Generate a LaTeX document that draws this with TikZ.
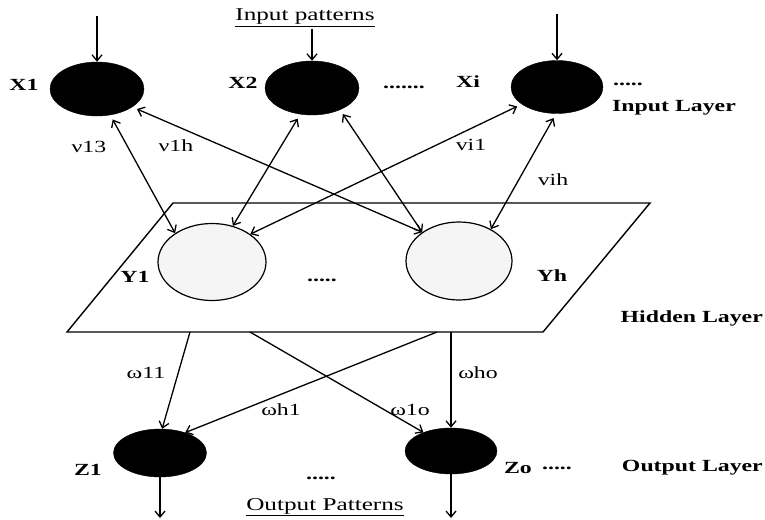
\documentclass[tikz,border=0pt]{standalone}
\usepackage{fontspec}
\setmainfont{Liberation Serif}[FakeStretch=1.4]
\usetikzlibrary{shapes.geometric,arrows.meta}
\begin{document}
\begin{tikzpicture}[x=1pt,y=-1pt,
  lbl/.style={font=\fontsize{17}{19}\selectfont\bfseries, inner sep=0pt},
  wlbl/.style={font=\fontsize{17}{19}\selectfont, inner sep=0pt},
  ulbl/.style={font=\fontsize{18}{20}\selectfont, inner sep=0pt},
  dark/.style={ellipse, fill=black, draw=black, inner sep=0pt},
  light/.style={ellipse, fill=gray!8, draw=black, line width=1.2pt, inner sep=0pt},
  tip/.tip={Straight Barb[length=6pt,width=10pt]},
  link/.style={line width=1.3pt, -tip},
  dlink/.style={line width=1.3pt, tip-tip, shorten <=5pt},
]
\useasboundingbox (0,0) rectangle (765,519);

% hidden layer plane
\coordinate (P1) at (173,203);
\coordinate (P2) at (650,203);
\coordinate (P3) at (543,332);
\coordinate (P4) at (67,332);
\draw[line width=1.4pt] (P1) -- (P2) -- (P3) -- (P4) -- cycle;

% neurons
\node[dark, minimum width=94pt, minimum height=54pt] (X1) at (97,89) {};
\node[dark, minimum width=94pt, minimum height=54pt] (X2) at (312,88) {};
\node[dark, minimum width=92pt, minimum height=53pt] (Xi) at (557,87) {};
\node[light, minimum width=108pt, minimum height=77pt] (Y1) at (212,262) {};
\node[light, minimum width=106pt, minimum height=78pt] (Yh) at (459,261) {};
\node[dark, minimum width=93pt, minimum height=48pt] (Z1) at (160,453) {};
\node[dark, minimum width=92pt, minimum height=46pt] (Zo) at (451,451) {};

% input arrows
\coordinate (in1) at (97,16);
\coordinate (in2) at (312,29);
\coordinate (in3) at (557,14);
\draw[link] (in1) -- (X1.north);
\draw[link] (in2) -- (X2.north);
\draw[link] (in3) -- (Xi.north);

% input <-> hidden
\draw[dlink] (X1.-63) -- (Y1.142);
\draw[dlink] (X1.-27) -- (Yh.142);
\draw[dlink] (X2.-114) -- (Y1.60);
\draw[dlink] (X2.-38) -- (Yh.142);
\draw[dlink] (Xi.-154) -- (Y1.36);
\draw[dlink] (Xi.-92) -- (Yh.45);

% hidden -> output
\coordinate (h1) at (190,332);
\coordinate (h2) at (250,332);
\coordinate (h3) at (437,332);
\coordinate (h4) at (451,332);
\draw[link] (h1) -- (Z1.85);
\draw[link] (h3) -- (Z1.39);
\draw[link] (h2) -- (Zo.146);
\draw[link] (h4) -- (Zo.north);

% output arrows
\coordinate (out1) at (160,518);
\coordinate (out2) at (451,518);
\draw[link] (Z1.south) -- (out1);
\draw[link] (Zo.south) -- (out2);

% labels
\node[ulbl] (tin) at (305,18) {\underline{Input patterns}};
\node[lbl] (lX1) at (24,85) {X1};
\node[lbl] (lX2) at (243,83) {X2};
\node[lbl] (d1) at (404,87) {.......};
\node[lbl] (lXi) at (468,82) {Xi};
\node[lbl] (d2) at (628,84) {.....};
\node[lbl, anchor=west] (tIL) at (612,108) {Input Layer};

\node[wlbl] (w1) at (89,147) {ν13};
\node[wlbl] (w2) at (176,146) {ν1h};
\node[wlbl] (w3) at (471,145) {vi1};
\node[wlbl] (w4) at (553,180) {vih};

\node[lbl] (lY1) at (135,277) {Y1};
\node[lbl] (d3) at (322,280) {.....};
\node[lbl] (lYh) at (552,276) {Yh};
\node[lbl, anchor=east] (tHL) at (763,318) {Hidden Layer};

\node[wlbl] (o1) at (146,373) {ω11};
\node[wlbl] (o2) at (281,410) {ωh1};
\node[wlbl] (o3) at (410,410) {ω1o};
\node[wlbl] (o4) at (478,373) {ωho};

\node[lbl] (lZ1) at (88,470) {Z1};
\node[lbl] (d4) at (321,478) {.....};
\node[lbl] (lZo) at (518,468) {Zo};
\node[lbl] (d5) at (557,468) {.....};
\node[lbl, anchor=east] (tOL) at (763,468) {Output Layer};
\node[ulbl] (tout) at (325,507) {\underline{Output Patterns}};
\end{tikzpicture}
\end{document}
